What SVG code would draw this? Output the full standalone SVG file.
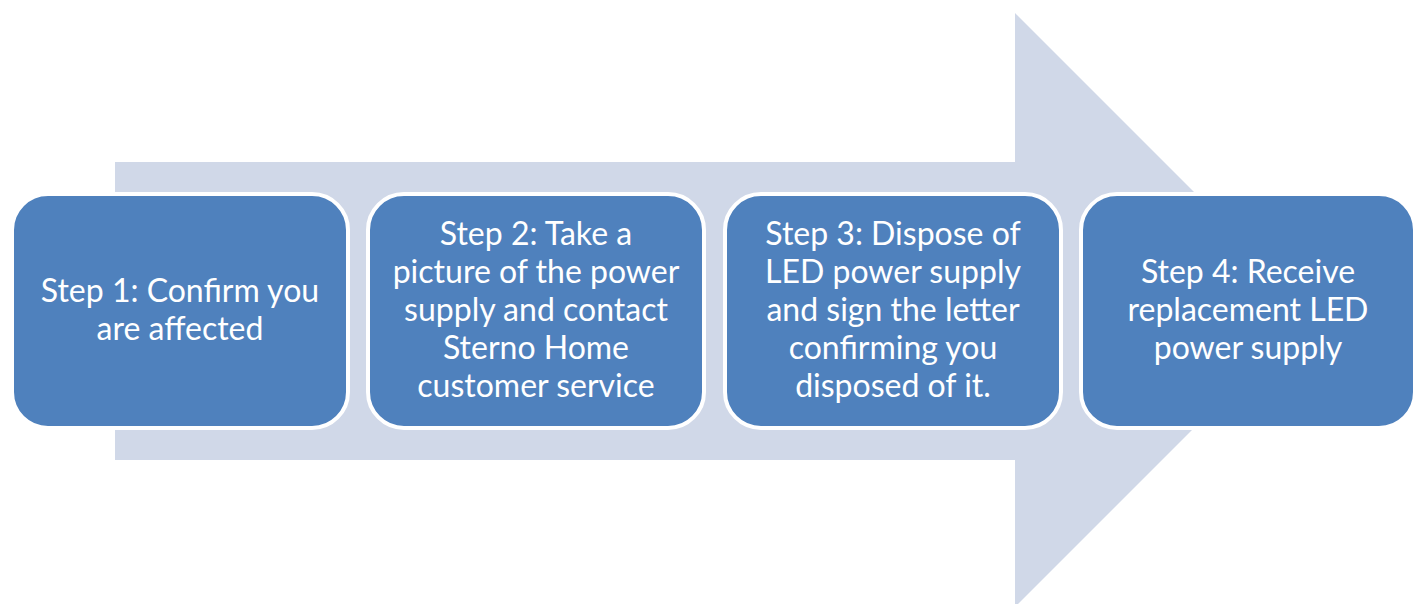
<svg xmlns="http://www.w3.org/2000/svg" width="1419" height="604" viewBox="0 0 1419 604">
  <style>
    .step rect { fill: #4F81BD; stroke: #FFFFFF; stroke-width: 4; }
    .step text { fill: #FFFFFF; font-family: Lato, "Open Sans", "Liberation Sans", sans-serif; font-size: 32px; text-anchor: middle; }
    .band { fill: #D0D8E8; }
  </style>
  <!-- Background process arrow -->
  <g id="process-arrow">
    <path class="band" d="M115,162 H1015 V13 L1312,310 L1015,607 V460 H115 Z"/>
  </g>
  <g id="step1" class="step">
    <rect x="12" y="194" width="336" height="234" rx="36" ry="36"/>
    <text x="180" y="302">Step 1: Confirm you</text>
    <text x="180" y="340">are affected</text>
  </g>
  <g id="step2" class="step">
    <rect x="368" y="194" width="336" height="234" rx="36" ry="36"/>
    <text x="536" y="245">Step 2: Take a</text>
    <text x="536" y="283">picture of the power</text>
    <text x="536" y="321">supply and contact</text>
    <text x="536" y="359">Sterno Home</text>
    <text x="536" y="397">customer service</text>
  </g>
  <g id="step3" class="step">
    <rect x="725" y="194" width="336" height="234" rx="36" ry="36"/>
    <text x="893" y="245">Step 3: Dispose of</text>
    <text x="893" y="283">LED power supply</text>
    <text x="893" y="321">and sign the letter</text>
    <text x="893" y="359">confirming you</text>
    <text x="893" y="397">disposed of it.</text>
  </g>
  <g id="step4" class="step">
    <rect x="1081" y="194" width="334" height="234" rx="36" ry="36"/>
    <text x="1248" y="283">Step 4: Receive</text>
    <text x="1248" y="321">replacement LED</text>
    <text x="1248" y="359">power supply</text>
  </g>
  <g id="connectors"/>
</svg>
